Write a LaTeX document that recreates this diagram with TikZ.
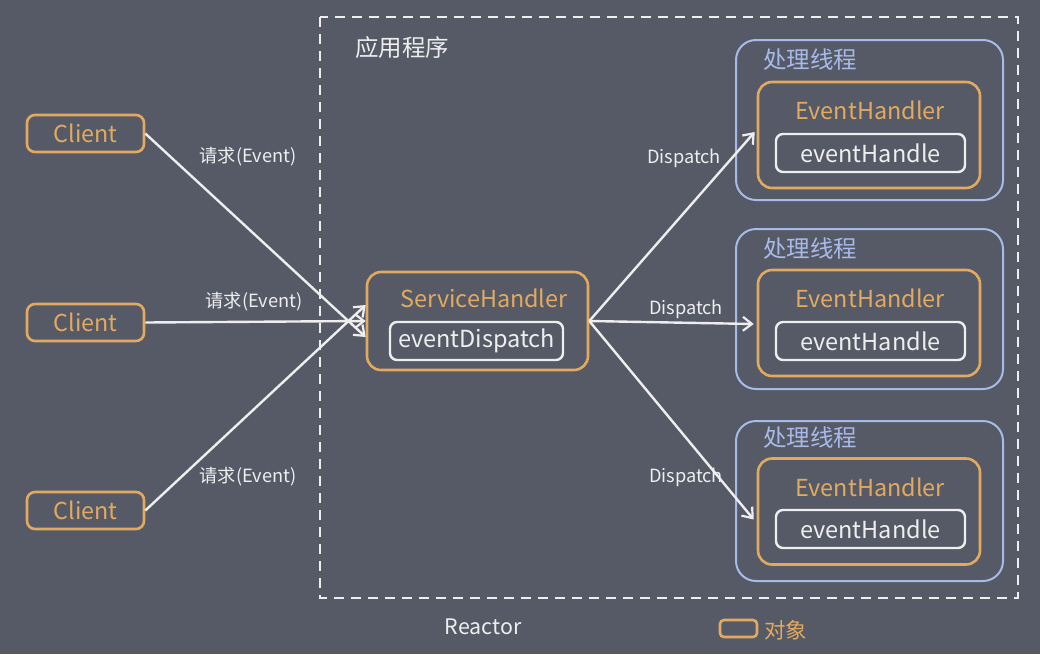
\documentclass[tikz,border=0pt]{standalone}
\usepackage{fontspec}
\setmainfont{Noto Sans CJK SC}
\usetikzlibrary{arrows.meta}
\definecolor{bg}{HTML}{555A66}
\definecolor{org}{HTML}{E2AA60}
\definecolor{blu}{HTML}{A8BAE8}
\definecolor{wht}{HTML}{EEEEEE}
\begin{document}
\begin{tikzpicture}[x=1pt,y=-1pt,
  obj/.style={draw=org,line width=2.6pt,rounded corners=8pt,text=org,font=\fontsize{23.3}{25}\selectfont,inner sep=0pt},
  bigobj/.style={draw=org,line width=2.6pt,rounded corners=14pt,inner sep=0pt},
  inner/.style={draw=wht,line width=2.4pt,rounded corners=7pt,text=wht,font=\fontsize{23.5}{25}\selectfont,inner sep=0pt},
  thread/.style={draw=blu,line width=2pt,rounded corners=20pt,inner sep=0pt},
  lbl/.style={text=wht,font=\fontsize{18.2}{20}\selectfont,inner sep=0pt},
  title/.style={font=\fontsize{23.5}{25}\selectfont,inner sep=0pt},
  htext/.style={text=org,font=\fontsize{23.4}{25}\selectfont,inner sep=0pt},
  arr/.style={draw=wht,line width=2.4pt,-{Straight Barb[length=9pt,width=14pt,line width=2.2pt]}}
]
\fill[bg] (0,0) rectangle (1040,654);
\useasboundingbox (0,0) rectangle (1040,654);

% reactor dashed frame
\draw[wht,line width=2.8pt,dash pattern=on 10pt off 7pt] (320,17) rectangle (1018,598);
\node[title,text=wht] (app) at (402,48) {应用程序};

% clients
\node[obj,minimum width=117pt,minimum height=37pt] (c1) at (85.5,133.5) {Client};
\node[obj,minimum width=117pt,minimum height=37pt] (c2) at (85.5,322.5) {Client};
\node[obj,minimum width=117pt,minimum height=37pt] (c3) at (85.5,510.5) {Client};

% service handler
\node[bigobj,minimum width=221pt,minimum height=98pt] (sh) at (477.5,321) {};
\node[htext] (sht) at (484,298) {ServiceHandler};
\node[inner,minimum width=173pt,minimum height=38pt] (ed) at (476.5,341) {eventDispatch};

% threads
\foreach \i/\y in {1/120,2/309,3/501}{
  \node[thread,minimum width=267pt,minimum height=160pt] (t\i) at (869.5,\y) {};
}
\node[title,text=blu] (tt1) at (810,60) {处理线程};
\node[title,text=blu] (tt2) at (810,249) {处理线程};
\node[title,text=blu] (tt3) at (810,438) {处理线程};

\foreach \i/\y in {1/135,2/323,3/511.5}{
  \node[bigobj,minimum width=222pt,minimum height=106pt] (eh\i) at (869,\y) {};
}
\node[htext] (eht1) at (870,110) {EventHandler};
\node[htext] (eht2) at (870,298) {EventHandler};
\node[htext] (eht3) at (870,487) {EventHandler};
\node[inner,minimum width=189pt,minimum height=38pt] (h1) at (870.5,153) {eventHandle};
\node[inner,minimum width=189pt,minimum height=38pt] (h2) at (870.5,341) {eventHandle};
\node[inner,minimum width=189pt,minimum height=38pt] (h3) at (870.5,529) {eventHandle};

% arrow end coordinates
\coordinate (in1) at ([yshift=-16pt]sh.west);
\coordinate (in3) at ([yshift=16pt]sh.west);
\coordinate (o1) at ([yshift=3pt,xshift=-2pt]eh1.west);
\coordinate (o2) at ([xshift=-3pt,yshift=-1pt]eh2.west);
\coordinate (o3) at ([yshift=-8pt,xshift=-3pt]eh3.west);

\draw[arr] (c1.east) -- (in1);
\draw[arr] (c2.east) -- (sh.west);
\draw[arr] (c3.east) -- (in3);
\draw[arr] (sh.east) -- (o1);
\draw[arr] (sh.east) -- (o2);
\draw[arr] (sh.east) -- (o3);

\node[lbl] (l1) at (248,157) {请求(Event)};
\node[lbl] (l2) at (254,302) {请求(Event)};
\node[lbl] (l3) at (248,477) {请求(Event)};
\node[lbl] (d1) at (684,158) {Dispatch};
\node[lbl] (d2) at (686,309) {Dispatch};
\node[lbl] (d3) at (686,477) {Dispatch};

% bottom
\node[text=wht,font=\fontsize{21.4}{23}\selectfont,inner sep=0pt] (reactor) at (483,627) {Reactor};
\node[draw=org,line width=2.6pt,rounded corners=4pt,minimum width=37pt,minimum height=17pt,inner sep=0pt] (leg) at (738.5,628.5) {};
\node[text=org,font=\fontsize{21.5}{23}\selectfont,inner sep=0pt,anchor=west] (legt) at (764,630) {对象};
\end{tikzpicture}
\end{document}
